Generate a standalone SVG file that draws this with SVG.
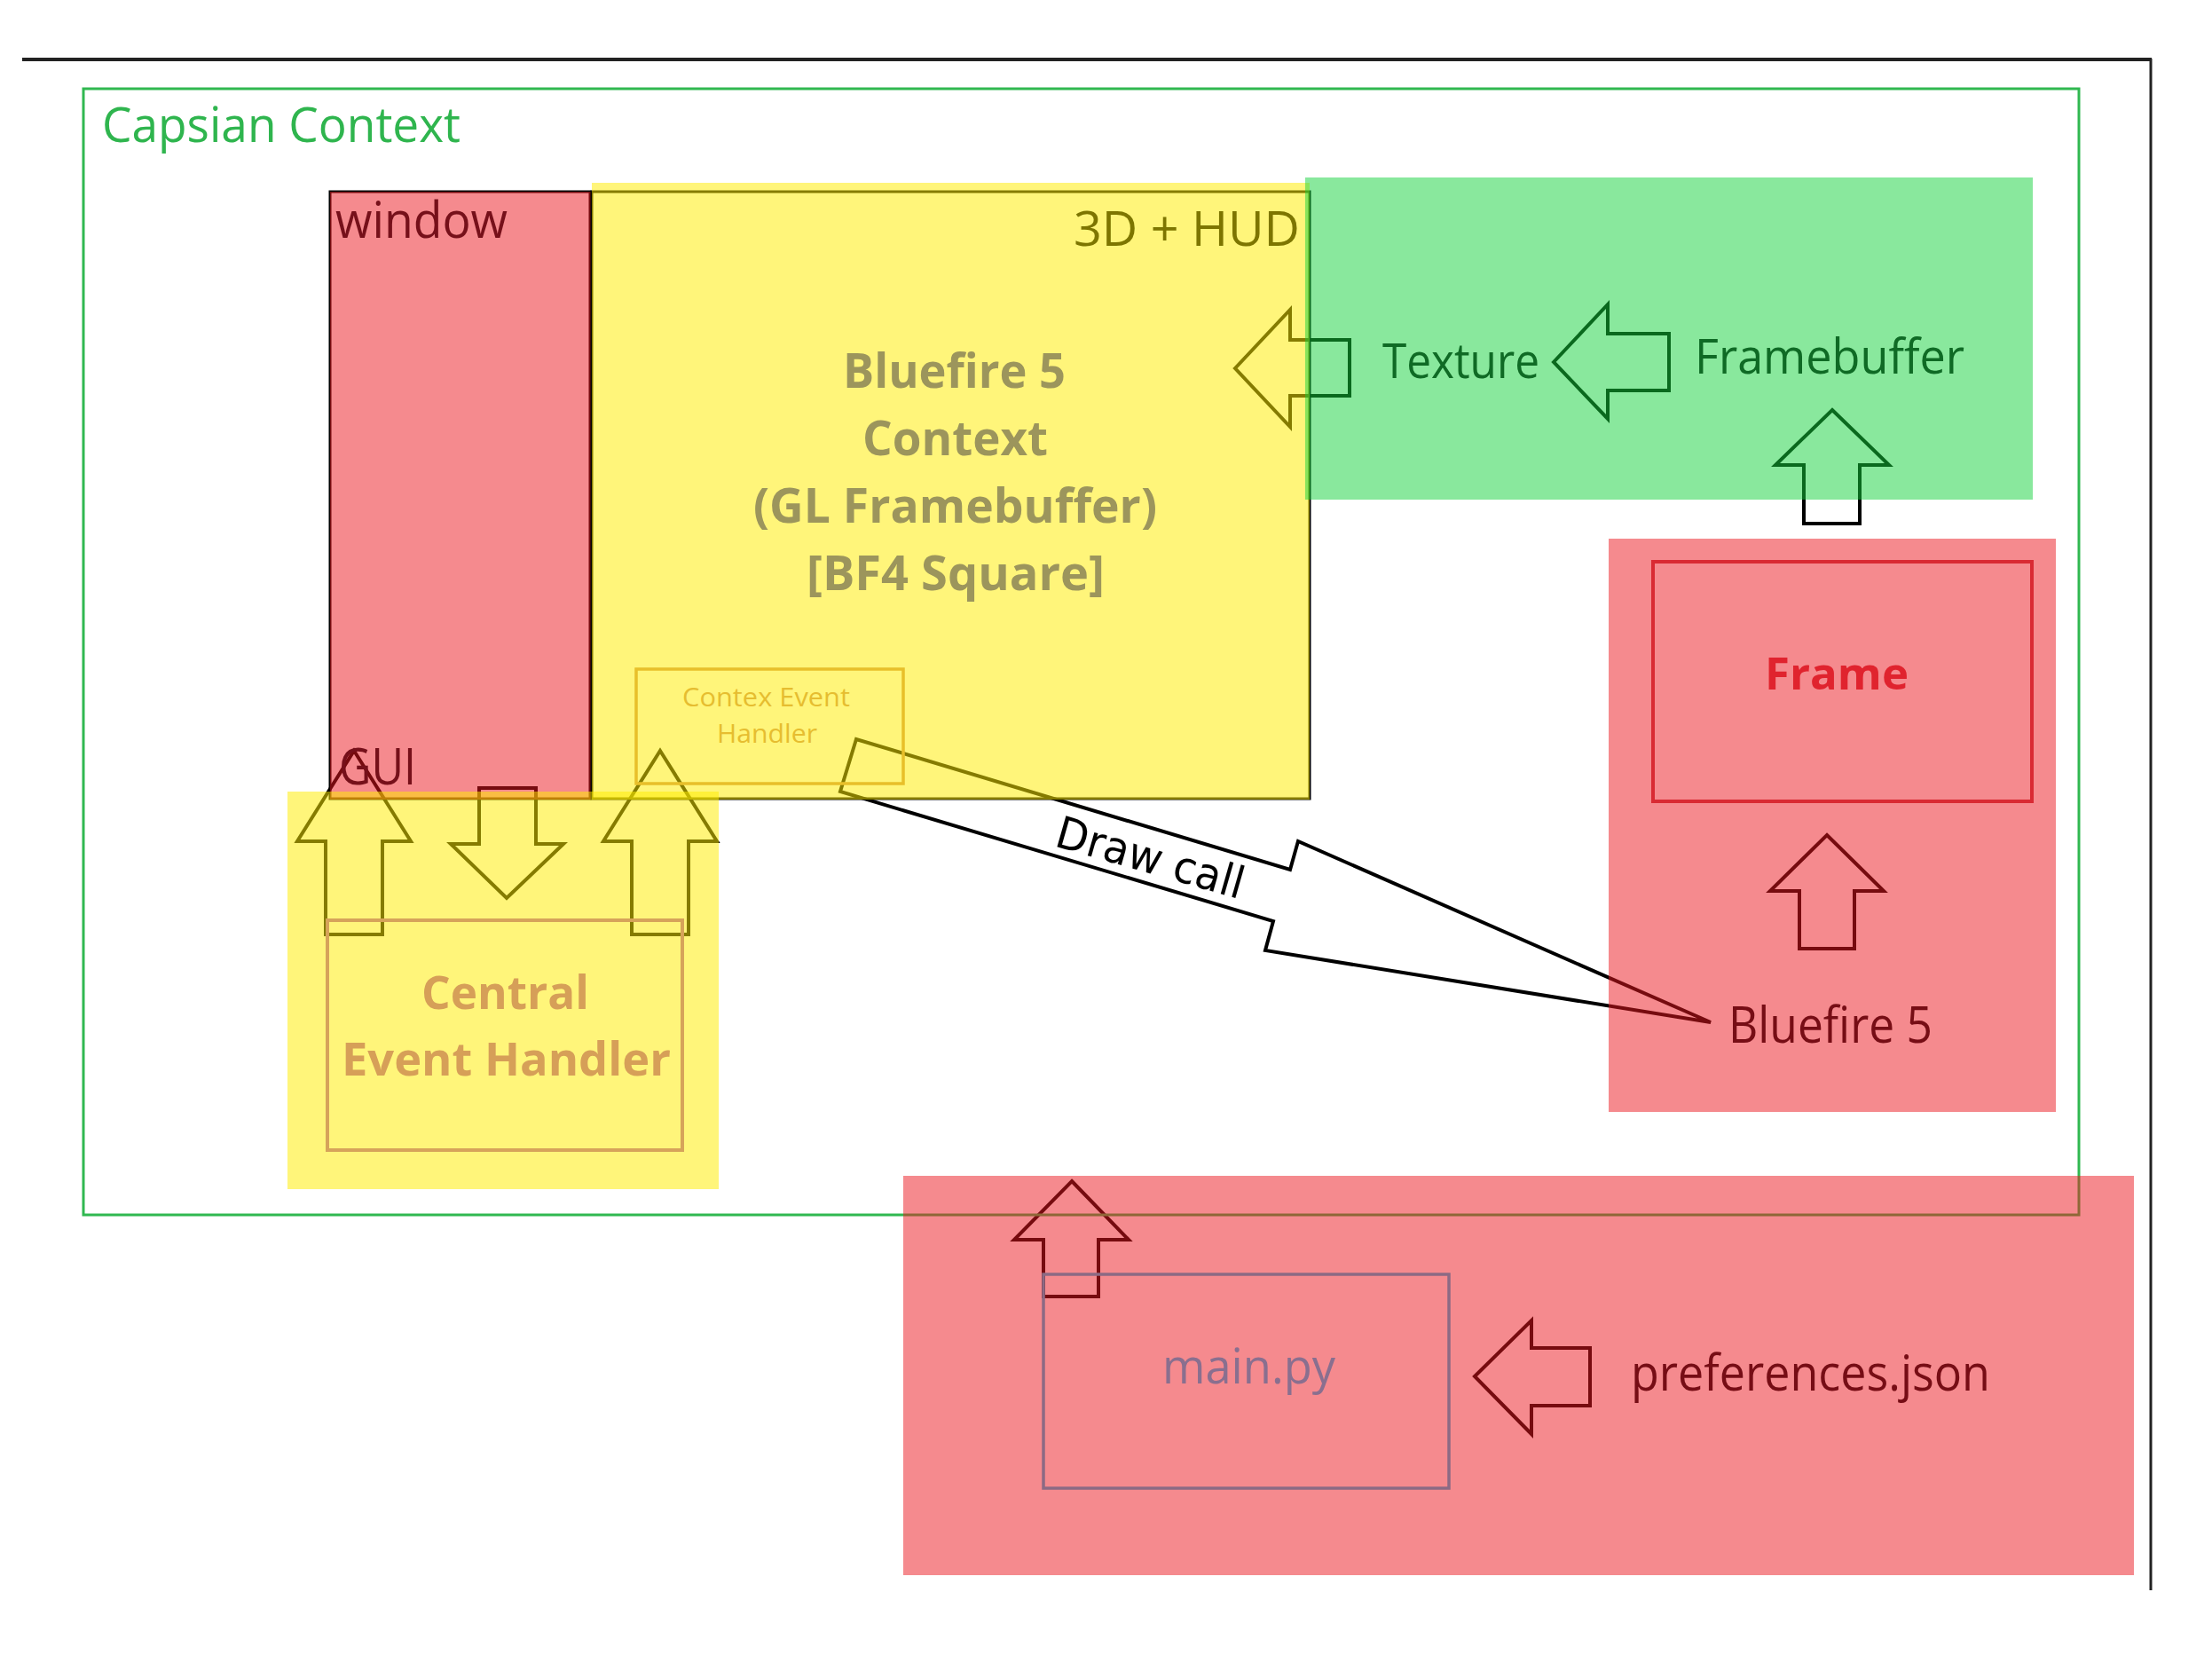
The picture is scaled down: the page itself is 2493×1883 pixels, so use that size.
<svg xmlns="http://www.w3.org/2000/svg" width="2493" height="1883" viewBox="0 0 2493 1883">
<defs>
<style>
text{font-family:"Open Sans","Noto Sans","DejaVu Sans",sans-serif;}
.blk{fill:none;stroke:#000;stroke-width:4;stroke-linejoin:miter;}
.red{fill:rgb(235,22,30);fill-opacity:0.5;}
.yel{fill:rgb(255,236,0);fill-opacity:0.52;}
.grn{fill:rgb(20,210,60);fill-opacity:0.5;}
.bold{font-weight:700;}
</style>
</defs>
<rect width="2493" height="1883" fill="#fff"/>
<g id="page-frame">
<line x1="25" y1="67" x2="2425" y2="67" stroke="#222" stroke-width="4"/>
<line x1="2424" y1="66" x2="2424" y2="1792" stroke="#222" stroke-width="3"/>
</g>
<g id="connectors">
<polygon class="blk" points="1392,415 1454,349 1454,383 1521,383 1521,446 1454,446 1454,481"/>
<polygon class="blk" points="1751,408 1812,343 1812,376 1881,376 1881,440 1812,440 1812,472"/>
<polygon class="blk" points="2065,462 2129,524 2096,524 2096,590 2033,590 2033,524 2001,524"/>
<polygon class="blk" points="2059,941 2123,1004 2090,1004 2090,1069 2028,1069 2028,1004 1995,1004"/>
<polygon class="blk" points="399,846 463,948 431,948 431,1053 367,1053 367,948 335,948"/>
<polygon class="blk" points="540,888 604,888 604,951 635,951 571,1012 508,951 540,951"/>
<polygon class="blk" points="744,846 808,948 776,948 776,1053 712,1053 712,948 680,948"/>
<polygon class="blk" points="1208,1331 1272,1397 1238,1397 1238,1461 1176,1461 1176,1397 1143,1397"/>
<polygon class="blk" points="1662,1551 1726,1488 1726,1519 1792,1519 1792,1584 1726,1584 1726,1616"/>
<polygon class="blk" points="965,833 947,892 1435,1038 1426,1071 1928,1152 1463,948 1454,980" stroke-width="4.5"/>
<text x="1187" y="953" font-size="50" fill="#000" style="font-family:'DejaVu Sans',sans-serif" transform="rotate(16 1187 953)" textLength="218" lengthAdjust="spacingAndGlyphs">Draw call</text>
</g>
<g id="capsian-context">
<rect x="94" y="100" width="2249" height="1269" fill="none" stroke="#30b850" stroke-width="3"/>
<text x="115" y="160" font-size="55" fill="#2fb54e" textLength="404" lengthAdjust="spacingAndGlyphs">Capsian Context</text>
</g>
<g id="window">
<rect x="372" y="216" width="293" height="684" fill="none" stroke="#000" stroke-width="3"/>
<rect class="red" x="372" y="216" width="294" height="685"/>
<text x="378" y="268" font-size="56" fill="#76101a" textLength="194" lengthAdjust="spacingAndGlyphs">window</text>
<text x="382" y="884" font-size="56" fill="#76101a" textLength="87" lengthAdjust="spacingAndGlyphs">GUI</text>
</g>
<g id="bluefire-context">
<rect x="667" y="216" width="809" height="684" fill="none" stroke="#000" stroke-width="3"/>
<rect class="yel" x="667" y="206" width="809" height="695"/>
<text x="1210" y="277" font-size="54" fill="#7d7500" textLength="255" lengthAdjust="spacingAndGlyphs">3D + HUD</text>
<g class="bold" font-size="54" fill="#9c955c">
<text x="950" y="437" textLength="251" lengthAdjust="spacingAndGlyphs">Bluefire 5</text>
<text x="972" y="513" textLength="209" lengthAdjust="spacingAndGlyphs">Context</text>
<text x="849" y="589" textLength="455" lengthAdjust="spacingAndGlyphs">(GL Framebuffer)</text>
<text x="909" y="665" textLength="336" lengthAdjust="spacingAndGlyphs">[BF4 Square]</text>
</g>
</g>
<g id="context-event-handler">
<rect x="717" y="754" width="301" height="129" fill="none" stroke="#e8bf2a" stroke-width="3.5"/>
<text x="769" y="796" font-size="30" fill="#e6bd30" textLength="189" lengthAdjust="spacingAndGlyphs">Contex Event</text>
<text x="808" y="837" font-size="30" fill="#e6bd30" textLength="113" lengthAdjust="spacingAndGlyphs">Handler</text>
</g>
<g id="texture-framebuffer">
<rect class="grn" x="1471" y="200" width="820" height="363"/>
<text x="1558" y="426" font-size="54" fill="#0f6a25" textLength="177" lengthAdjust="spacingAndGlyphs">Texture</text>
<text x="1910" y="421" font-size="54" fill="#0f6a25" textLength="304" lengthAdjust="spacingAndGlyphs">Framebuffer</text>
</g>
<g id="bluefire5">
<rect class="red" x="1813" y="607" width="504" height="646"/>
<rect x="1863" y="633" width="427" height="270" fill="none" stroke="#d92a33" stroke-width="4"/>
<text class="bold" x="1989" y="777" font-size="50" fill="#e0232e" textLength="162" lengthAdjust="spacingAndGlyphs">Frame</text>
<text x="1948" y="1175" font-size="56" fill="#760d15" textLength="230" lengthAdjust="spacingAndGlyphs">Bluefire 5</text>
</g>
<g id="central-event-handler">
<rect class="yel" x="324" y="892" width="486" height="448"/>
<rect x="369" y="1037" width="400" height="259" fill="none" stroke="#d6a35a" stroke-width="4"/>
<text class="bold" x="475" y="1137" font-size="52" fill="#d69f58" textLength="189" lengthAdjust="spacingAndGlyphs">Central</text>
<text class="bold" x="385" y="1212" font-size="52" fill="#d69f58" textLength="371" lengthAdjust="spacingAndGlyphs">Event Handler</text>
</g>
<g id="main-py">
<rect class="red" x="1018" y="1325" width="1387" height="450"/>
<rect x="1176" y="1436" width="457" height="241" fill="none" stroke="#8c6a84" stroke-width="3.5"/>
<text x="1310" y="1559" font-size="54" fill="#8a6f8f" textLength="195" lengthAdjust="spacingAndGlyphs">main.py</text>
<text x="1838" y="1567" font-size="56" fill="#760d15" textLength="405" lengthAdjust="spacingAndGlyphs">preferences.json</text>
</g>
</svg>
